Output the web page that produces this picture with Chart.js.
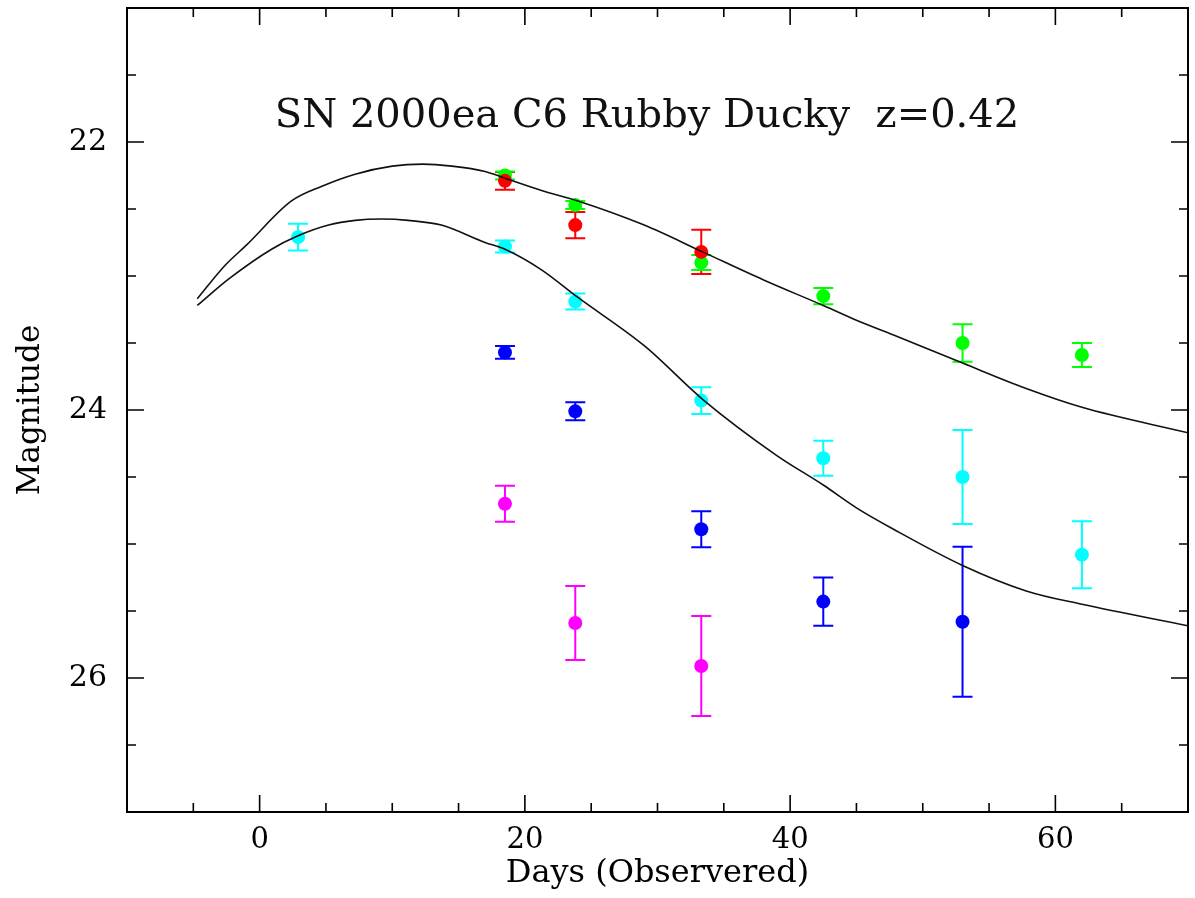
<!DOCTYPE html>
<html>
<head>
<meta charset="utf-8">
<script src="https://cdn.jsdelivr.net/npm/chart.js@4.4.1/dist/chart.umd.min.js"></script>
<style>
  html, body { margin: 0; padding: 0; background: #fff; }
  #wrap { width: 1195px; height: 898px; position: relative; }
</style>
</head>
<body>
<div id="wrap"><canvas id="lc"></canvas></div>
<script>
// ---- data ----
const titleText = 'SN 2000ea C6 Rubby Ducky  z=0.42';

const xMajorTicks = [0, 20, 40, 60];
const xMinorTicks = [-5, 5, 10, 15, 25, 30, 35, 45, 50, 55, 65];
const yMajorTicks = [22, 24, 26];
const yMinorTicks = [21.5, 22.5, 23, 23.5, 24.5, 25, 25.5, 26.5];

// template curves
const upperDays = [-4.7, -2.6, -1.0, 2.4, 4.7, 7.2, 10.0, 12.3, 14.5, 17.0, 18.5, 21.2, 24.0, 29.0, 33.4, 38.0, 42.5, 45.0, 47.8, 53.0, 57.8, 62.0, 70.0];
const upperMag  = [23.17, 22.92, 22.77, 22.44, 22.33, 22.24, 22.18, 22.165, 22.18, 22.22, 22.27, 22.36, 22.44, 22.62, 22.82, 23.03, 23.22, 23.33, 23.44, 23.65, 23.84, 23.98, 24.17];
const lowerDays = [-4.7, -2.3, 0.9, 2.9, 5.2, 7.2, 9.2, 11.2, 13.7, 17.0, 18.5, 21.2, 24.0, 29.0, 33.4, 39.0, 42.5, 45.0, 47.8, 53.0, 57.8, 62.0, 70.0];
const lowerMag  = [23.22, 23.02, 22.80, 22.70, 22.62, 22.585, 22.575, 22.585, 22.62, 22.75, 22.80, 22.95, 23.16, 23.52, 23.92, 24.34, 24.56, 24.73, 24.89, 25.16, 25.35, 25.45, 25.61];

// photometry
const redDays = [18.5, 23.8, 33.3];
const redMag  = [22.29, 22.62, 22.82];
const redErr  = [0.066, 0.098, 0.165];

const greenDays = [18.5, 23.8, 33.3, 42.5, 53.0, 62.0];
const greenMag  = [22.25, 22.47, 22.90, 23.15, 23.50, 23.59];
const greenErr  = [0.03, 0.03, 0.056, 0.06, 0.14, 0.09];

const cyanDays = [2.9, 18.5, 23.8, 33.3, 42.5, 53.0, 62.0];
const cyanMag  = [22.71, 22.78, 23.19, 23.93, 24.36, 24.50, 25.08];
const cyanErr  = [0.10, 0.045, 0.06, 0.10, 0.13, 0.35, 0.25];

const blueDays = [18.5, 23.8, 33.3, 42.5, 53.0];
const blueMag  = [23.57, 24.01, 24.89, 25.43, 25.58];
const blueErr  = [0.047, 0.067, 0.134, 0.18, 0.56];

const magentaDays = [18.5, 23.8, 33.3];
const magentaMag  = [24.70, 25.59, 25.91];
const magentaErr  = [0.134, 0.276, 0.373];

const toXY = (xs, ys) => xs.map((v, i) => ({ x: v, y: ys[i] }));

function curve(xs, ys) {
  return {
    type: 'line',
    data: toXY(xs, ys),
    borderColor: '#111',
    borderWidth: 1.6,
    pointRadius: 0,
    fill: false,
    cubicInterpolationMode: 'monotone'
  };
}

function points(xs, ys, errs, color) {
  return {
    type: 'scatter',
    data: toXY(xs, ys),
    errors: errs,
    backgroundColor: color,
    borderColor: color,
    borderWidth: 0,
    pointRadius: 7,
    pointHoverRadius: 7
  };
}

// error bars, drawn under the markers
const errorBars = {
  id: 'errorBars',
  beforeDatasetsDraw(chart) {
    const { ctx, scales: { x, y } } = chart;
    ctx.save();
    ctx.lineWidth = 2;
    chart.data.datasets.forEach(ds => {
      if (!ds.errors) return;
      ctx.strokeStyle = ds.borderColor;
      ds.data.forEach((p, i) => {
        const px = x.getPixelForValue(p.x);
        const y1 = y.getPixelForValue(p.y - ds.errors[i]);
        const y2 = y.getPixelForValue(p.y + ds.errors[i]);
        ctx.beginPath();
        ctx.moveTo(px, y1); ctx.lineTo(px, y2);
        ctx.moveTo(px - 10, y1); ctx.lineTo(px + 10, y1);
        ctx.moveTo(px - 10, y2); ctx.lineTo(px + 10, y2);
        ctx.stroke();
      });
    });
    ctx.restore();
  }
};

// box with inward ticks on all four sides + title inside
const frameTicks = {
  id: 'frameTicks',
  afterDraw(chart) {
    const { ctx, chartArea: a, scales: { x, y } } = chart;
    const seg = (x1, y1, x2, y2) => { ctx.moveTo(x1, y1); ctx.lineTo(x2, y2); };
    ctx.save();
    ctx.strokeStyle = '#000';
    ctx.lineWidth = 2;
    ctx.strokeRect(a.left, a.top, a.right - a.left, a.bottom - a.top);

    ctx.lineWidth = 1.6;
    ctx.beginPath();
    xMajorTicks.forEach(v => { const p = x.getPixelForValue(v); seg(p, a.bottom, p, a.bottom - 17); seg(p, a.top, p, a.top + 17); });
    xMinorTicks.forEach(v => { const p = x.getPixelForValue(v); seg(p, a.bottom, p, a.bottom - 9); seg(p, a.top, p, a.top + 9); });
    yMajorTicks.forEach(v => { const p = y.getPixelForValue(v); seg(a.left, p, a.left + 17, p); seg(a.right, p, a.right - 17, p); });
    yMinorTicks.forEach(v => { const p = y.getPixelForValue(v); seg(a.left, p, a.left + 9, p); seg(a.right, p, a.right - 9, p); });
    ctx.stroke();

    ctx.fillStyle = '#111';
    ctx.font = '40px "DejaVu Serif"';
    ctx.textAlign = 'center';
    ctx.textBaseline = 'alphabetic';
    ctx.fillText(titleText, 647, 127);
    ctx.restore();
  }
};

const ctx = document.getElementById('lc').getContext('2d');
new Chart(ctx, {
  data: {
    datasets: [
      curve(upperDays, upperMag),
      curve(lowerDays, lowerMag),
      points(redDays, redMag, redErr, '#ff0000'),
      points(greenDays, greenMag, greenErr, '#00ff00'),
      points(cyanDays, cyanMag, cyanErr, '#00ffff'),
      points(blueDays, blueMag, blueErr, '#0000ff'),
      points(magentaDays, magentaMag, magentaErr, '#ff00ff')
    ]
  },
  options: {
    responsive: true,
    maintainAspectRatio: false,
    animation: false,
    layout: { padding: { top: 8, right: 6, left: 0, bottom: 0 } },
    plugins: {
      legend: { display: false },
      tooltip: { enabled: false }
    },
    scales: {
      x: {
        type: 'linear',
        min: -10,
        max: 70,
        afterBuildTicks: s => { s.ticks = xMajorTicks.map(v => ({ value: v })); },
        afterFit: s => { s.height = 86; s.paddingLeft = 0; s.paddingRight = 0; },
        grid: { display: false, drawTicks: false },
        border: { display: false },
        ticks: {
          color: '#000',
          padding: 11,
          font: { family: '"DejaVu Serif"', size: 29, lineHeight: 1.2 }
        },
        title: {
          display: true,
          text: 'Days (Observered)',
          color: '#000',
          padding: { top: 0, bottom: 8 },
          font: { family: '"DejaVu Serif"', size: 32, lineHeight: 1 }
        }
      },
      y: {
        type: 'linear',
        min: 21,
        max: 27,
        reverse: true,
        afterBuildTicks: s => { s.ticks = yMajorTicks.map(v => ({ value: v })); },
        afterFit: s => { s.width = 127; s.paddingTop = 0; s.paddingBottom = 0; },
        grid: { display: false, drawTicks: false },
        border: { display: false },
        ticks: {
          color: '#000',
          padding: 20,
          font: { family: '"DejaVu Serif"', size: 30 }
        },
        title: {
          display: true,
          text: 'Magnitude',
          color: '#000',
          padding: { top: 15, bottom: 0 },
          font: { family: '"DejaVu Serif"', size: 31, lineHeight: 1 }
        }
      }
    }
  },
  plugins: [errorBars, frameTicks]
});
</script>
</body>
</html>
